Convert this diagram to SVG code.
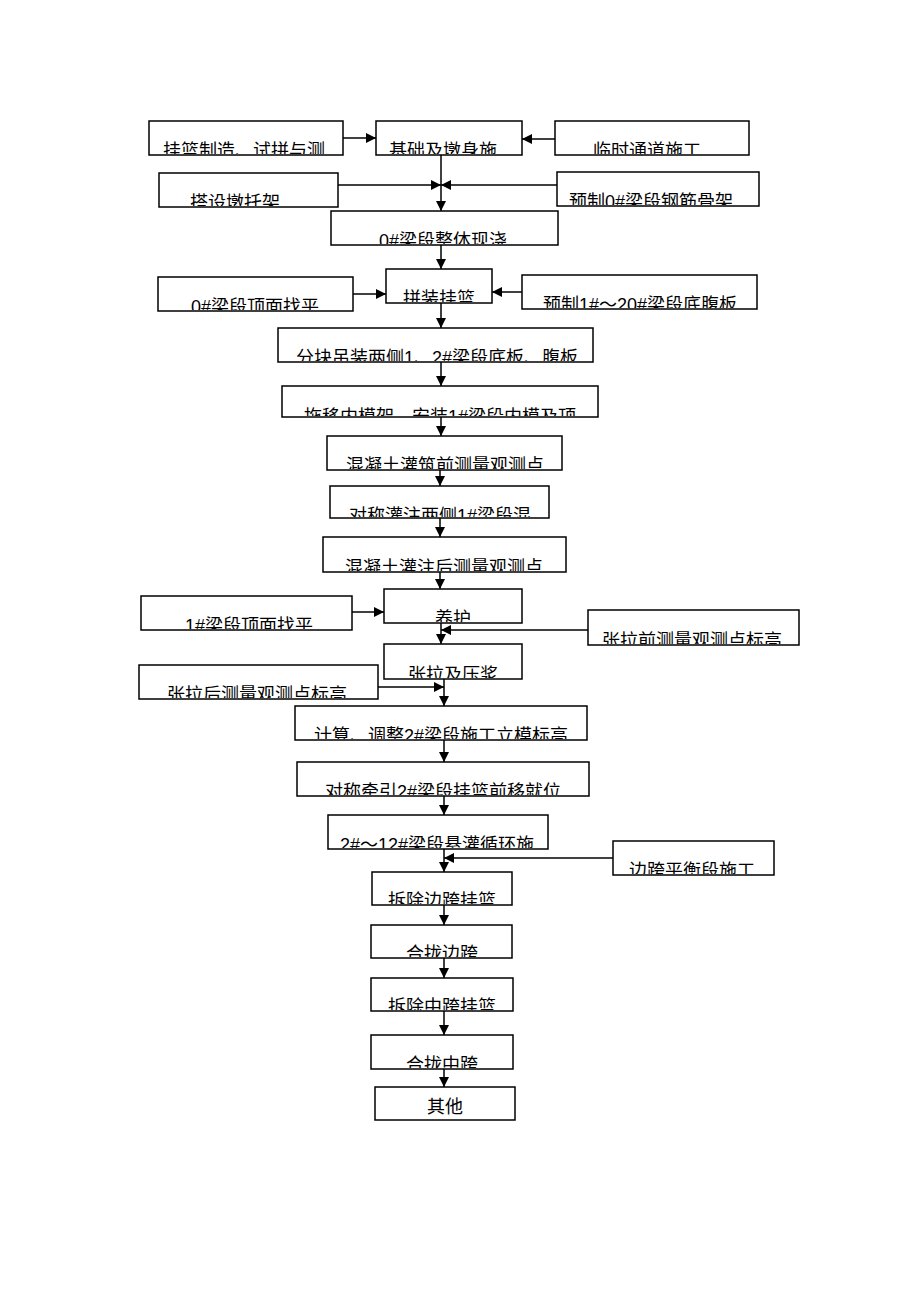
<svg xmlns="http://www.w3.org/2000/svg" width="920" height="1302" viewBox="0 0 920 1302">
<style>
.bx{fill:#fff;stroke:#000;stroke-width:1.5}
.t{font-family:"Liberation Sans","Noto Sans CJK SC",sans-serif;font-size:18px;fill:#000;text-anchor:middle}
.c{stroke:#000;stroke-width:1.5;fill:none}
.a{stroke:#000;stroke-width:1.5;fill:none;marker-end:url(#ah)}
</style>
<defs>
<marker id="ah" markerUnits="userSpaceOnUse" markerWidth="11" markerHeight="10" refX="10" refY="5" orient="auto">
<path d="M0,0 L10,5 L0,10 Z" fill="#000"/>
</marker>
<clipPath id="k1"><rect x="150" y="122" width="192" height="32"/></clipPath>
<clipPath id="k2"><rect x="377" y="122" width="144" height="32"/></clipPath>
<clipPath id="k3"><rect x="556" y="122" width="192" height="32"/></clipPath>
<clipPath id="k4"><rect x="160" y="174" width="177" height="32"/></clipPath>
<clipPath id="k5"><rect x="558" y="173" width="200" height="32"/></clipPath>
<clipPath id="k6"><rect x="332" y="212" width="225" height="32"/></clipPath>
<clipPath id="k7"><rect x="159" y="278" width="193" height="32"/></clipPath>
<clipPath id="k8"><rect x="387" y="270" width="104" height="32"/></clipPath>
<clipPath id="k9"><rect x="523" y="276" width="233" height="32"/></clipPath>
<clipPath id="k10"><rect x="279" y="329" width="313" height="32"/></clipPath>
<clipPath id="k11"><rect x="283" y="387" width="314" height="29"/></clipPath>
<clipPath id="k12"><rect x="328" y="437" width="233" height="32"/></clipPath>
<clipPath id="k13"><rect x="331" y="487" width="217" height="30"/></clipPath>
<clipPath id="k14"><rect x="324" y="538" width="241" height="33"/></clipPath>
<clipPath id="k15"><rect x="142" y="597" width="209" height="32"/></clipPath>
<clipPath id="k16"><rect x="385" y="590" width="136" height="32"/></clipPath>
<clipPath id="k17"><rect x="589" y="611" width="209" height="33"/></clipPath>
<clipPath id="k18"><rect x="385" y="645" width="136" height="33"/></clipPath>
<clipPath id="k19"><rect x="140" y="666" width="237" height="32"/></clipPath>
<clipPath id="k20"><rect x="296" y="707" width="290" height="32"/></clipPath>
<clipPath id="k21"><rect x="298" y="763" width="290" height="32"/></clipPath>
<clipPath id="k22"><rect x="329" y="816" width="218" height="32"/></clipPath>
<clipPath id="k23"><rect x="614" y="842" width="159" height="32"/></clipPath>
<clipPath id="k24"><rect x="373" y="873" width="138" height="31"/></clipPath>
<clipPath id="k25"><rect x="372" y="926" width="139" height="31"/></clipPath>
<clipPath id="k26"><rect x="372" y="979" width="140" height="31"/></clipPath>
<clipPath id="k27"><rect x="372" y="1036" width="140" height="32"/></clipPath>
</defs>
<rect width="920" height="1302" fill="#fff"/>
<g id="connectors">
<line class="a" x1="343" y1="138" x2="376" y2="138"/>
<line class="a" x1="555" y1="139" x2="522" y2="139"/>
<line class="a" x1="441" y1="155" x2="441" y2="211"/>
<line class="a" x1="338" y1="185" x2="441" y2="185"/>
<line class="a" x1="557" y1="185" x2="441" y2="185"/>
<line class="a" x1="441" y1="245" x2="441" y2="269"/>
<line class="a" x1="353" y1="294" x2="386" y2="294"/>
<line class="a" x1="522" y1="292" x2="492" y2="292"/>
<line class="a" x1="441" y1="303" x2="441" y2="328"/>
<line class="a" x1="441" y1="362" x2="441" y2="386"/>
<line class="a" x1="441" y1="417" x2="441" y2="436"/>
<line class="a" x1="440" y1="470" x2="440" y2="486"/>
<line class="a" x1="440" y1="518" x2="440" y2="537"/>
<line class="a" x1="440" y1="572" x2="440" y2="589"/>
<line class="a" x1="352" y1="612" x2="384" y2="612"/>
<line class="a" x1="441" y1="623" x2="441" y2="644"/>
<line class="a" x1="588" y1="630" x2="441" y2="630"/>
<line class="a" x1="444" y1="679" x2="444" y2="706"/>
<line class="a" x1="378" y1="687" x2="444" y2="687"/>
<line class="a" x1="444" y1="740" x2="444" y2="762"/>
<line class="a" x1="444" y1="796" x2="444" y2="815"/>
<line class="a" x1="444" y1="849" x2="444" y2="872"/>
<line class="a" x1="613" y1="858" x2="444" y2="858"/>
<line class="a" x1="444" y1="905" x2="444" y2="925"/>
<line class="a" x1="444" y1="958" x2="444" y2="978"/>
<line class="a" x1="444" y1="1011" x2="444" y2="1035"/>
<line class="a" x1="444" y1="1069" x2="444" y2="1087"/>
</g>
<g id="n1"><rect class="bx" x="149" y="121" width="194" height="34"/><text class="t" x="244" y="157" clip-path="url(#k1)">挂篮制造、试拼与测</text></g>
<g id="n2"><rect class="bx" x="376" y="121" width="146" height="34"/><text class="t" x="443" y="157" clip-path="url(#k2)">基础及墩身施</text></g>
<g id="n3"><rect class="bx" x="555" y="121" width="194" height="34"/><text class="t" x="647" y="157" clip-path="url(#k3)">临时通道施工</text></g>
<g id="n4"><rect class="bx" x="159" y="173" width="179" height="34"/><text class="t" x="235" y="209" clip-path="url(#k4)">搭设墩托架</text></g>
<g id="n5"><rect class="bx" x="557" y="172" width="202" height="34"/><text class="t" x="651" y="208" clip-path="url(#k5)">预制0#梁段钢筋骨架</text></g>
<g id="n6"><rect class="bx" x="331" y="211" width="227" height="34"/><text class="t" x="443" y="247" clip-path="url(#k6)">0#梁段整体现浇</text></g>
<g id="n7"><rect class="bx" x="158" y="277" width="195" height="34"/><text class="t" x="255" y="313" clip-path="url(#k7)">0#梁段顶面找平</text></g>
<g id="n8"><rect class="bx" x="386" y="269" width="106" height="34"/><text class="t" x="439" y="305" clip-path="url(#k8)">拼装挂篮</text></g>
<g id="n9"><rect class="bx" x="522" y="275" width="235" height="34"/><text class="t" x="640" y="311" clip-path="url(#k9)">预制1#～20#梁段底腹板</text></g>
<g id="n10"><rect class="bx" x="278" y="328" width="315" height="34"/><text class="t" x="437" y="364" clip-path="url(#k10)">分块吊装两侧1、2#梁段底板、腹板</text></g>
<g id="n11"><rect class="bx" x="282" y="386" width="316" height="31"/><text class="t" x="440" y="423" clip-path="url(#k11)">拖移内模架、安装1#梁段内模及顶</text></g>
<g id="n12"><rect class="bx" x="327" y="436" width="235" height="34"/><text class="t" x="445" y="472" clip-path="url(#k12)">混凝土灌筑前测量观测点</text></g>
<g id="n13"><rect class="bx" x="330" y="486" width="219" height="32"/><text class="t" x="440" y="522" clip-path="url(#k13)">对称灌注两侧1#梁段混</text></g>
<g id="n14"><rect class="bx" x="323" y="537" width="243" height="35"/><text class="t" x="444" y="574" clip-path="url(#k14)">混凝土灌注后测量观测点</text></g>
<g id="n15"><rect class="bx" x="141" y="596" width="211" height="34"/><text class="t" x="249" y="632" clip-path="url(#k15)">1#梁段顶面找平</text></g>
<g id="n16"><rect class="bx" x="384" y="589" width="138" height="34"/><text class="t" x="453" y="625" clip-path="url(#k16)">养护</text></g>
<g id="n17"><rect class="bx" x="588" y="610" width="211" height="35"/><text class="t" x="692" y="647" clip-path="url(#k17)">张拉前测量观测点标高</text></g>
<g id="n18"><rect class="bx" x="384" y="644" width="138" height="35"/><text class="t" x="453" y="681" clip-path="url(#k18)">张拉及压浆</text></g>
<g id="n19"><rect class="bx" x="139" y="665" width="239" height="34"/><text class="t" x="257" y="701" clip-path="url(#k19)">张拉后测量观测点标高</text></g>
<g id="n20"><rect class="bx" x="295" y="706" width="292" height="34"/><text class="t" x="441" y="742" clip-path="url(#k20)">计算、调整2#梁段施工立模标高</text></g>
<g id="n21"><rect class="bx" x="297" y="762" width="292" height="34"/><text class="t" x="443" y="798" clip-path="url(#k21)">对称牵引2#梁段挂篮前移就位</text></g>
<g id="n22"><rect class="bx" x="328" y="815" width="220" height="34"/><text class="t" x="437" y="851" clip-path="url(#k22)">2#～12#梁段悬灌循环施</text></g>
<g id="n23"><rect class="bx" x="613" y="841" width="161" height="34"/><text class="t" x="692" y="877" clip-path="url(#k23)">边跨平衡段施工</text></g>
<g id="n24"><rect class="bx" x="372" y="872" width="140" height="33"/><text class="t" x="442" y="907" clip-path="url(#k24)">拆除边跨挂篮</text></g>
<g id="n25"><rect class="bx" x="371" y="925" width="141" height="33"/><text class="t" x="442" y="960" clip-path="url(#k25)">合拢边跨</text></g>
<g id="n26"><rect class="bx" x="371" y="978" width="142" height="33"/><text class="t" x="442" y="1013" clip-path="url(#k26)">拆除中跨挂篮</text></g>
<g id="n27"><rect class="bx" x="371" y="1035" width="142" height="34"/><text class="t" x="442" y="1071" clip-path="url(#k27)">合拢中跨</text></g>
<g id="n28"><rect class="bx" x="375" y="1087" width="140" height="33"/><text class="t" x="445" y="1113">其他</text></g>
</svg>
